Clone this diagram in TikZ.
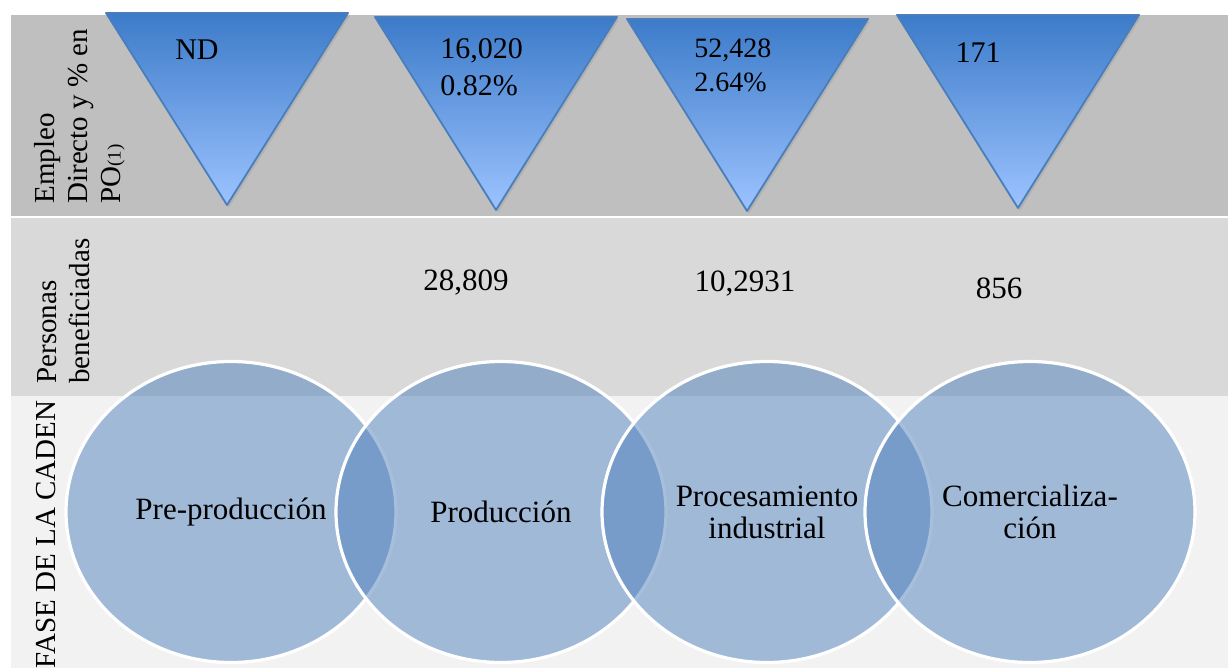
\documentclass[tikz,border=0pt]{standalone}
\usepackage{fontspec}
\setmainfont{Liberation Serif}
\usetikzlibrary{shapes.geometric,shadows}
\definecolor{bandtop}{HTML}{BFBFBF}
\definecolor{bandmid}{HTML}{D9D9D9}
\definecolor{bandlow}{HTML}{F2F2F2}
\definecolor{tritop}{HTML}{3C7BC9}
\definecolor{tribot}{HTML}{9DC3FF}
\definecolor{triedge}{HTML}{4A7EBB}
\definecolor{phasefill}{HTML}{4F81BD}
\newcommand{\fs}[2]{\fontsize{#1}{#2}\selectfont}
\tikzset{
  tri/.style={draw=triedge, line width=0.9pt, line join=round, top color=tritop, bottom color=tribot,
              drop shadow={shadow xshift=1pt, shadow yshift=-1.2pt, opacity=0.22}},
  phase/.style={ellipse, draw=white, line width=1.6pt, fill=phasefill, fill opacity=0.5, text opacity=1,
                minimum width=165pt, minimum height=150.5pt, inner sep=0pt, align=center, font=\fs{15.5}{16}},
  val/.style={inner sep=0pt, align=left, font=\fs{15}{18.5}},
  num/.style={inner sep=0pt, font=\fs{15.5}{18}},
  side/.style={rotate=90, anchor=north west, inner sep=0pt, align=left, font=\fs{14.5}{16.5}}
}
\begin{document}
\begin{tikzpicture}[x=0.5pt, y=-0.5pt]
 \useasboundingbox (0,0) rectangle (1228,668);
 % bands
 \fill[bandtop] (11,15) rectangle (1228,216);
 \fill[bandmid] (11,218) rectangle (1228,396);
 \fill[bandlow] (11,396) rectangle (1228,668);
 % employment triangles
 \path[tri] (106,13) -- (348,13) -- (227,205) -- cycle;
 \path[tri] (375,17) -- (617,17) -- (496,210) -- cycle;
 \path[tri] (627,19) -- (868,19) -- (747,211) -- cycle;
 \path[tri] (897,15) -- (1139,15) -- (1018,208) -- cycle;
 \node[val] (nd) at (197,50) {ND};
 \node[val, anchor=west] (v2) at (440,67) {16,020\\0.82\%};
 \node[val, anchor=west, font=\fs{14}{17}] (v3) at (694,65) {52,428\\2.64\%};
 \node[val] (v4) at (978,53) {171};
 % beneficiaries
 \node[num] (b2) at (466,283) {28,809};
 \node[num] (b3) at (745,284) {10,2931};
 \node[num] (b4) at (999,288) {856};
 % row labels
 \node[side] (lemp) at (34,204) {Empleo\\Directo y \% en\\PO{\fs{9.5}{9.5}(1)}};
 \node[side] (lper) at (37,384) {Personas\\beneficiadas};
 \node[side] (lfase) at (36,669) {FASE DE LA CADEN};
 % phases
 \node[phase] (pre) at (231,512) {Pre-producción};
 \node[phase] (prod) at (501,512) {Producción};
 \node[phase] (proc) at (767,512) {Procesamiento\\industrial};
 \node[phase] (com) at (1030,512) {Comercializa-\\ción};
\end{tikzpicture}
\end{document}
